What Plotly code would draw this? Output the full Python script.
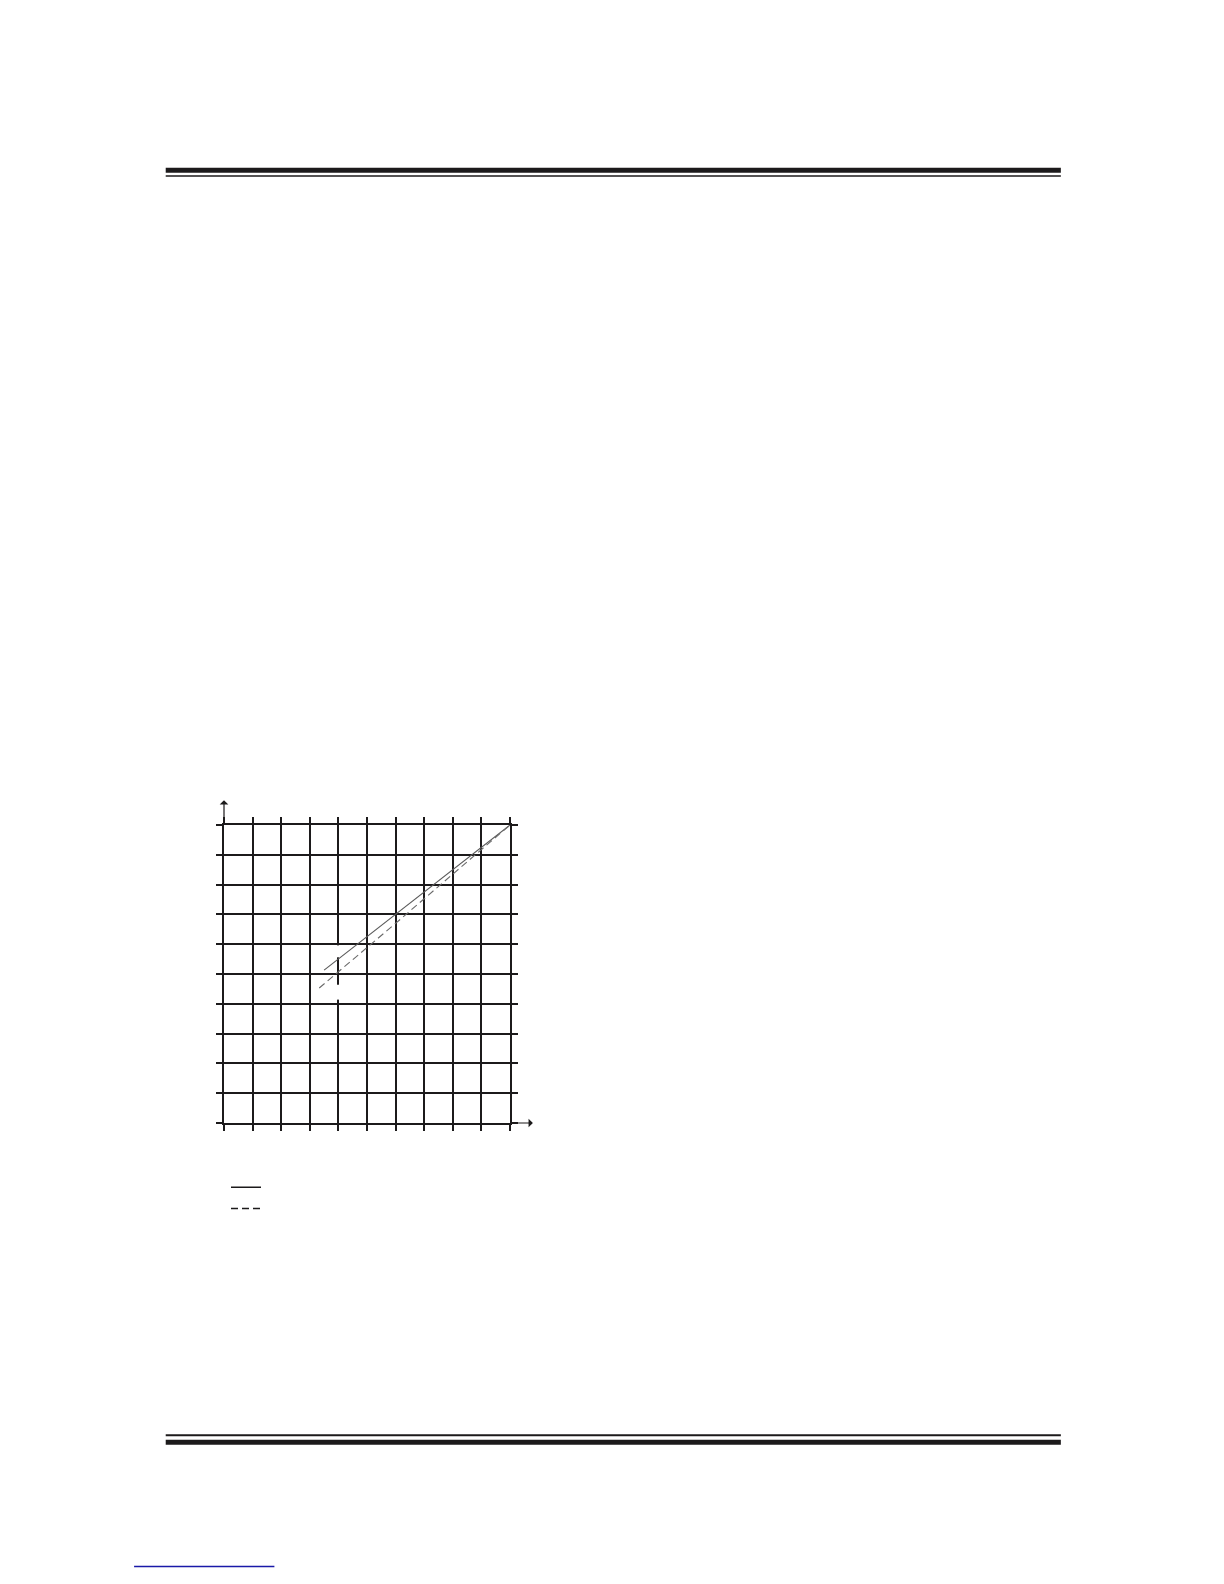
import plotly.graph_objects as go

# grid ticks (both axes run 0..10 in unit steps)
x_ticks = list(range(0, 11))
y_ticks = list(range(0, 11))

# solid curve
solid_x = [3.5, 6.0, 10.0]
solid_y = [5.13, 7.0, 10.0]

# dashed curve
dash_x = [3.33, 6.0, 10.0]
dash_y = [4.53, 6.7, 10.0]

# white cut-outs on the x=4 grid line
cut_x = 4
cut_spans = [(5.56, 5.96), (4.14, 4.64)]

INK = "#1c1a1b"

# plot area on the page, in pixels
L, R, T, B = 215.8, 502.4, 816.7, 1115.2
W, H = 1224, 1584


def px_x(p):
    return (p - L) / (R - L)


def px_y(p):
    return (B - p) / (B - T)


fig = go.Figure()

fig.add_trace(go.Scatter(x=solid_x, y=solid_y, mode="lines", showlegend=False,
                         line=dict(color="#5a5a5a", width=1.1)))
fig.add_trace(go.Scatter(x=dash_x, y=dash_y, mode="lines", showlegend=False,
                         line=dict(color="#6a6a6a", width=1.1, dash="7px,4px")))

# legend keys (drawn darker than the curves, as on the sheet)
fig.add_trace(go.Scatter(x=[None], y=[None], mode="lines", name=" ",
                         line=dict(color=INK, width=1.5)))
fig.add_trace(go.Scatter(x=[None], y=[None], mode="lines", name=" ",
                         line=dict(color=INK, width=1.5, dash="7px,4px")))

axis_style = dict(
    range=[0, 10], showgrid=True, gridcolor=INK, gridwidth=1.5,
    zeroline=False, showline=True, linecolor=INK, linewidth=1.5,
    mirror="ticks", ticks="outside", ticklen=6, tickwidth=1.5, tickcolor=INK,
    showticklabels=False, fixedrange=True,
)
fig.update_xaxes(tickvals=x_ticks, **axis_style)
fig.update_yaxes(tickvals=y_ticks, **axis_style)

# gaps in the x=4 grid line
for y0, y1 in cut_spans:
    fig.add_shape(type="rect", xref="x", yref="y", x0=cut_x - 0.1, x1=cut_x + 0.1,
                  y0=y0, y1=y1, fillcolor="white", line=dict(width=0), layer="between")

# axis arrows
fig.add_annotation(x=0, y=10.83, ax=0, ay=10, xref="x", yref="y", axref="x", ayref="y",
                   text="", showarrow=True, arrowhead=1, arrowsize=1.2, arrowwidth=1.2,
                   arrowcolor=INK, standoff=0, startstandoff=0)
fig.add_annotation(x=10.8, y=0, ax=10, ay=0, xref="x", yref="y", axref="x", ayref="y",
                   text="", showarrow=True, arrowhead=1, arrowsize=1.2, arrowwidth=1.2,
                   arrowcolor=INK, standoff=0, startstandoff=0)

# page rules
rules = [
    (157.4, 1054.4, 158.4, 163.4),
    (157.4, 1054.4, 165.8, 167.3),
    (157.4, 1054.4, 1427.0, 1429.0),
    (157.4, 1054.4, 1432.5, 1437.5),
]
for x0, x1, y0, y1 in rules:
    fig.add_shape(type="rect", xref="paper", yref="paper",
                  x0=px_x(x0), x1=px_x(x1), y0=px_y(y1), y1=px_y(y0),
                  fillcolor=INK, line=dict(width=0), layer="above")

# link underline at the bottom left
fig.add_shape(type="line", xref="paper", yref="paper",
              x0=px_x(125.7), x1=px_x(266.3), y0=px_y(1559.5), y1=px_y(1559.5),
              line=dict(color="#1a1aa8", width=1.6), layer="above")

fig.update_layout(
    width=W, height=H,
    margin=dict(l=L, r=W - R, t=T, b=H - B, pad=0, autoexpand=False),
    paper_bgcolor="white", plot_bgcolor="white",
    showlegend=True,
    legend=dict(x=px_x(217.8), y=px_y(1164), xanchor="left", yanchor="top",
                bgcolor="rgba(0,0,0,0)", itemwidth=30, tracegroupgap=0,
                font=dict(family="DejaVu Sans", size=14, color=INK)),
)

fig.write_html("out.html")
